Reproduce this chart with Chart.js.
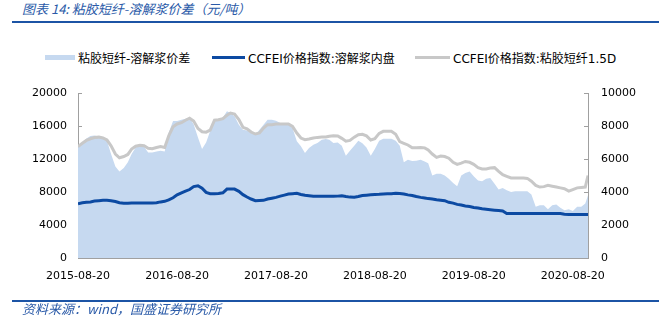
<!DOCTYPE html>
<html>
<head>
<meta charset="utf-8">
<script src="https://cdn.jsdelivr.net/npm/chart.js@4/dist/chart.umd.min.js"></script>
<style>
  body { margin: 0; width: 659px; height: 323px; background: #fff; position: relative; overflow: hidden; }
  #myChart { position: absolute; left: 0; top: 0; }
  .note { position: absolute; left: 22px; font-family: "Noto Sans CJK SC", sans-serif; font-style: italic; font-size: 13px; color: #2a5aa8; white-space: nowrap; }
  .rule { position: absolute; left: 12px; right: 0; height: 2px; background: #1c54a5; }
  .leg { position: absolute; top: 49px; height: 17px; display: flex; align-items: center; font-family: "DejaVu Sans", "Noto Sans CJK SC", sans-serif; font-size: 12px; color: #000; white-space: nowrap; }
  .leg i { display: inline-block; margin-right: 3px; }
</style>
</head>
<body>
<div class="note" style="top:-1px">图表 14: 粘胶短纤-溶解浆价差（元/吨）</div>
<div class="rule" style="top:21px"></div>
<div id="legend"></div>
<canvas id="myChart" width="659" height="323"></canvas>
<div class="rule" style="top:300px"></div>
<div class="note" style="top:299px">资料来源：wind，国盛证券研究所</div>
<script>
// half-monthly sample dates
const dates = [
    '2015-08-20','2015-09-05','2015-09-20','2015-10-05','2015-10-20','2015-11-05','2015-11-20','2015-12-05','2015-12-20',
    '2016-01-05','2016-01-20','2016-02-05','2016-02-20','2016-03-05','2016-03-20','2016-04-05','2016-04-20','2016-05-05','2016-05-20','2016-06-05','2016-06-20',
    '2016-07-05','2016-07-20','2016-08-05','2016-08-20','2016-09-05','2016-09-20','2016-10-05','2016-10-20','2016-11-05','2016-11-20','2016-12-05','2016-12-20',
    '2017-01-05','2017-01-20','2017-02-05','2017-02-20','2017-03-05','2017-03-20','2017-04-05','2017-04-20','2017-05-05','2017-05-20','2017-06-05','2017-06-20',
    '2017-07-05','2017-07-20','2017-08-05','2017-08-20','2017-09-05','2017-09-20','2017-10-05','2017-10-20','2017-11-05','2017-11-20','2017-12-05','2017-12-20',
    '2018-01-05','2018-01-20','2018-02-05','2018-02-20','2018-03-05','2018-03-20','2018-04-05','2018-04-20','2018-05-05','2018-05-20','2018-06-05','2018-06-20',
    '2018-07-05','2018-07-20','2018-08-05','2018-08-20','2018-09-05','2018-09-20','2018-10-05','2018-10-20','2018-11-05','2018-11-20','2018-12-05','2018-12-20',
    '2019-01-05','2019-01-20','2019-02-05','2019-02-20','2019-03-05','2019-03-20','2019-04-05','2019-04-20','2019-05-05','2019-05-20','2019-06-05','2019-06-20',
    '2019-07-05','2019-07-20','2019-08-05','2019-08-20','2019-09-05','2019-09-20','2019-10-05','2019-10-20','2019-11-05','2019-11-20','2019-12-05','2019-12-20',
    '2020-01-05','2020-01-20','2020-02-05','2020-02-20','2020-03-05','2020-03-20','2020-04-05','2020-04-20','2020-05-05','2020-05-20','2020-06-05','2020-06-20',
    '2020-07-05','2020-07-20','2020-08-05','2020-08-20','2020-09-05','2020-09-20','2020-10-05','2020-10-15'
];

// 粘胶短纤-溶解浆价差 (right axis)
const spread = [
    6700,7000,7250,7400,7420,7370,7250,7100,6300,5550,5250,5450,5800,6300,6700,6850,6750,6400,6400,6450,6500,6450,7600,8300,8300,8380,8440,8500,8100,7300,6600,7000,
    7700,8380,8440,8520,8900,8790,8590,8080,7780,7720,7580,7470,7780,8080,8380,8380,8320,8180,8120,8080,7880,7070,6770,6360,6670,6870,6970,7170,7210,7170,6970,7000,
    6800,6200,6500,6800,7100,6950,6700,6200,6600,7100,7230,7230,7230,7100,6800,5800,5950,5880,5900,5950,5850,5750,5000,5100,5100,5000,4800,4550,4350,5000,5150,
    5250,4950,4700,4650,4800,4850,4500,4150,4250,4100,4000,4050,4050,4050,4050,3850,3100,3200,3200,2950,3200,3250,3050,2900,2950,2850,3100,3100,3300,3800
];

// CCFEI价格指数:溶解浆内盘 (left axis)
const pulpPrice = [
    6580,6700,6750,6800,6900,6950,6990,6990,6950,6850,6700,6630,6640,6660,6670,6670,6670,6680,6680,6700,6800,6870,7050,7300,7650,7900,8100,8300,8650,8750,8450,7950,
    7800,7800,7820,7900,8350,8350,8350,8080,7680,7390,7150,6950,6970,6990,7150,7250,7350,7500,7620,7750,7800,7840,7700,7600,7550,7480,7470,7470,7470,7470,7480,7500,
    7550,7450,7380,7360,7450,7580,7620,7660,7700,7720,7760,7780,7800,7840,7820,7760,7650,7580,7450,7350,7280,7200,7150,7060,7000,6950,6750,6650,6500,6420,6300,
    6250,6130,6050,5960,5900,5850,5800,5750,5700,5400,5380,5380,5380,5380,5380,5380,5380,5380,5380,5380,5380,5380,5380,5300,5260,5260,5260,5260,5260,5260
];

// CCFEI价格指数:粘胶短纤1.5D (left axis)
const vsfPrice = [
    13500,13900,14250,14450,14600,14650,14550,14300,13600,12600,12150,12300,12550,13200,13550,13650,13600,13300,13250,13400,13500,13400,14800,15900,16250,16400,16700,16950,16600,15700,15300,15250,
    15500,16700,16750,16900,17300,17570,17450,16770,15840,15670,15270,15030,15150,15760,16160,16160,16240,16240,16240,16240,15960,15150,14540,14340,14420,14540,14620,14660,14660,14750,14830,14800,
    14500,14150,14250,14650,14950,15000,14800,14300,14450,15100,15350,15350,15350,15000,14100,13900,13700,13350,13350,13400,13350,13100,12600,12200,12350,12300,12100,11600,11350,11500,11700,
    11600,11350,10950,10800,10800,10900,10950,10500,10100,9900,9700,9700,9700,9700,9650,9300,8800,8600,8650,8800,8700,8600,8500,8400,8100,8300,8500,8550,8600,10000
];

const tickLabels = ['2015-08-20', '2016-08-20', '2017-08-20', '2018-08-20', '2019-08-20', '2020-08-20'];
const seriesNames = ['粘胶短纤-溶解浆价差', 'CCFEI价格指数:溶解浆内盘', 'CCFEI价格指数:粘胶短纤1.5D'];

const dayMs = 86400000;
const start = Date.parse(dates[0]);
const toDay = (d) => Math.round((Date.parse(d) - start) / dayMs);
const xs = dates.map(toDay);
const tickDays = tickLabels.map(toDay);
const pts = (vals) => vals.map((v, i) => ({ x: xs[i], y: v }));

const areaColor = "#c6d9f0";
const pulpColor = "#0c4aa2";
const vsfColor = "#c8c8c8";
const axisColor = "#a0a0a0";

// legend in html
const legendSpec = [
    { left: 45, swatch: "width:30px;height:5px;background:" + areaColor },
    { left: 212, swatch: "width:33px;height:3px;background:" + pulpColor },
    { left: 415, swatch: "width:35px;height:3px;background:" + vsfColor }
];
const legendEl = document.getElementById("legend");
legendSpec.forEach((s, i) => {
    const d = document.createElement("div");
    d.className = "leg";
    d.style.left = s.left + "px";
    d.innerHTML = '<i style="' + s.swatch + '"></i><span>' + seriesNames[i] + '</span>';
    legendEl.appendChild(d);
});

const tickFont = { family: "DejaVu Sans", size: 11 };
const plain = (v) => String(v);

const ctx = document.getElementById("myChart").getContext("2d");
const chart = new Chart(ctx, {
    type: "line",
    data: {
        datasets: [
            {
                label: seriesNames[0],
                data: pts(spread),
                yAxisID: "y1",
                fill: "origin",
                backgroundColor: areaColor,
                borderWidth: 0,
                pointRadius: 0,
                order: 3
            },
            {
                label: seriesNames[1],
                data: pts(pulpPrice),
                yAxisID: "y",
                fill: false,
                borderColor: pulpColor,
                borderWidth: 3,
                pointRadius: 0,
                order: 1
            },
            {
                label: seriesNames[2],
                data: pts(vsfPrice),
                yAxisID: "y",
                fill: false,
                borderColor: vsfColor,
                borderWidth: 3,
                pointRadius: 0,
                order: 2
            }
        ]
    },
    options: {
        responsive: false,
        animation: false,
        devicePixelRatio: 1,
        layout: { padding: { top: 93, left: 0, right: 0, bottom: 0 } },
        plugins: {
            legend: { display: false },
            tooltip: { enabled: false }
        },
        scales: {
            x: {
                type: "linear",
                min: 0,
                max: xs[xs.length - 1],
                afterBuildTicks: (scale) => { scale.ticks = tickDays.map(v => ({ value: v })); },
                afterFit: (scale) => { scale.height = 65; },
                grid: { drawOnChartArea: false, drawTicks: true, tickLength: -4, color: axisColor },
                border: { color: axisColor },
                ticks: {
                    padding: 16,
                    autoSkip: false,
                    maxRotation: 0,
                    color: "#000",
                    font: tickFont,
                    callback: (v) => tickLabels[tickDays.indexOf(v)] || ""
                }
            },
            y: {
                position: "left",
                min: 0,
                max: 20000,
                afterFit: (scale) => { scale.width = 78; },
                grid: { drawOnChartArea: false, drawTicks: true, tickLength: -4, color: axisColor },
                border: { color: axisColor },
                ticks: { stepSize: 4000, padding: 15, color: "#000", font: tickFont, callback: plain }
            },
            y1: {
                position: "right",
                min: 0,
                max: 10000,
                afterFit: (scale) => { scale.width = 71; },
                grid: { drawOnChartArea: false, drawTicks: true, tickLength: -4, color: axisColor },
                border: { color: axisColor },
                ticks: { stepSize: 2000, padding: 17, color: "#000", font: tickFont, callback: plain }
            }
        }
    }
});
</script>
</body>
</html>
